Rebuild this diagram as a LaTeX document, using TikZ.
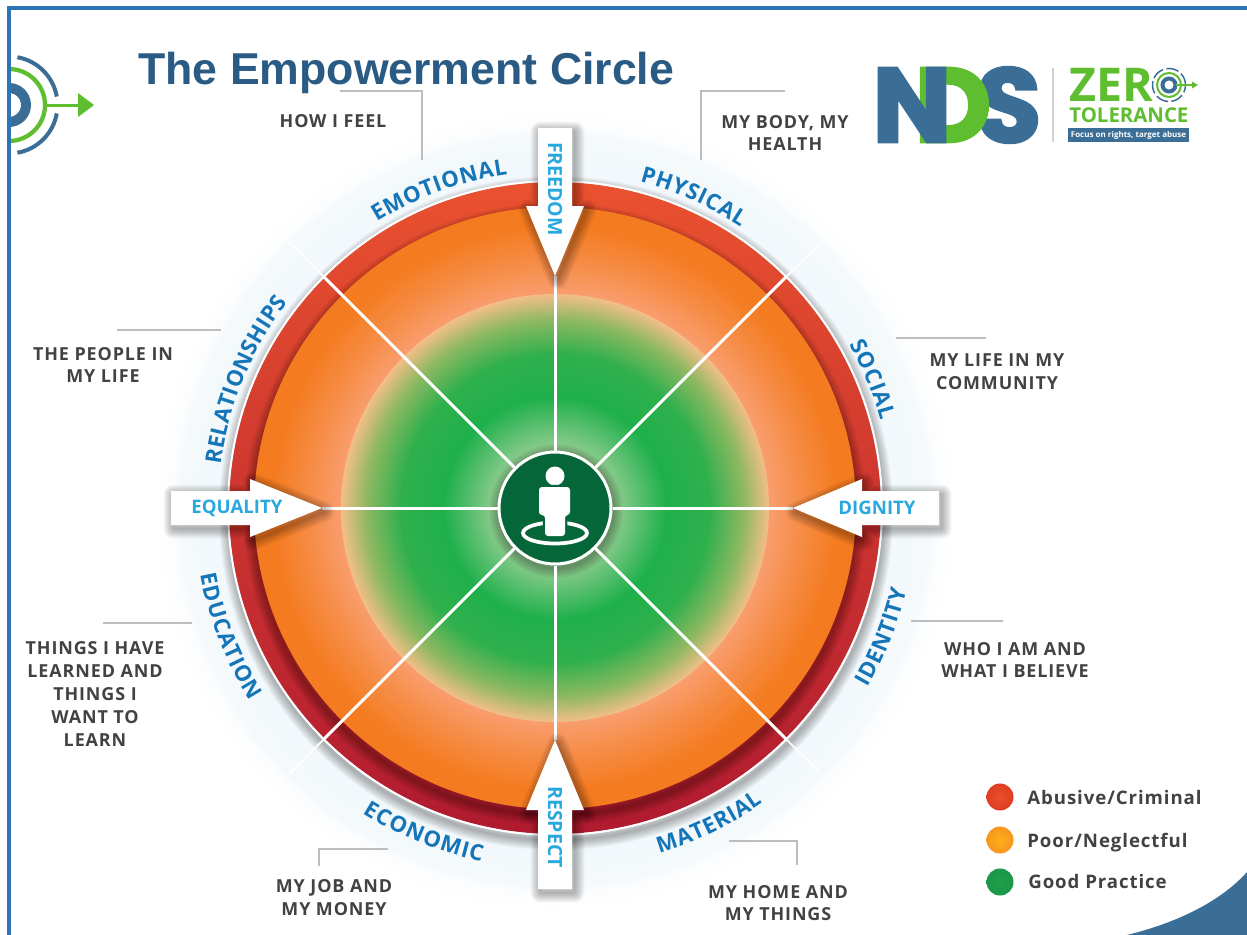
\documentclass[tikz,border=0pt]{standalone}
\usepackage{fontspec}
\usetikzlibrary{decorations.text}
\setmainfont{Open Sans}
\newfontfamily\titlefont{Liberation Sans}
\newfontfamily\logofont[BoldFeatures={FakeBold=2.5}]{Poppins}
\newfontfamily\spacedfont[LetterSpace=5]{Open Sans}
\definecolor{framblue}{HTML}{2E75B6}
\definecolor{ndsblue}{HTML}{3A6E96}
\definecolor{ndsgreen}{HTML}{5FBE2F}
\definecolor{titleblue}{HTML}{2A5B84}
\definecolor{ringblue}{HTML}{1475B8}
\definecolor{arrowblue}{HTML}{29A8DF}
\definecolor{inkgrey}{HTML}{404244}
\definecolor{leadgrey}{HTML}{BDBDBD}
\definecolor{hubgreen}{HTML}{05663A}
\definecolor{redtop}{HTML}{E9512F}
\definecolor{redmid}{HTML}{CB262A}
\definecolor{redlow}{HTML}{B01A30}
\definecolor{HaloA}{HTML}{F2F8FB}
\definecolor{HaloB}{HTML}{F5F9FC}
\definecolor{HaloC}{HTML}{FCFDFE}
\definecolor{OrgA}{HTML}{F99F72}
\definecolor{OrgB}{HTML}{F68C45}
\definecolor{OrgC}{HTML}{F47B20}
\definecolor{GrnA}{HTML}{8FCC8F}
\definecolor{GrnB}{HTML}{1FB04B}
\definecolor{GrnC}{HTML}{2FB04D}
\definecolor{GrnD}{HTML}{8DB862}
\definecolor{GrnE}{HTML}{F3BE88}
\definecolor{dotredin}{HTML}{E8502C}
\definecolor{dotredout}{HTML}{DF3D22}
\definecolor{dotorgin}{HTML}{FDB018}
\definecolor{dotorgout}{HTML}{F7961E}
\definecolor{dotgrnin}{HTML}{1FA04A}
\definecolor{dotgrnout}{HTML}{1A9648}
\pgfdeclareradialshading{paleglow}{\pgfpoint{0bp}{0bp}}{color(0bp)=(HaloA);color(21.6bp)=(HaloA);color(23.4bp)=(HaloB);color(24bp)=(HaloC);color(25bp)=(white);color(50bp)=(white)}
\pgfdeclareradialshading{orangeglow}{\pgfpoint{0bp}{0bp}}{color(0bp)=(OrgA);color(17.5bp)=(OrgA);color(20.5bp)=(OrgB);color(23.5bp)=(OrgC);color(25bp)=(OrgC);color(50bp)=(OrgC)}
\pgfdeclareradialshading{greenglow}{\pgfpoint{0bp}{0bp}}{color(0bp)=(GrnA);color(7bp)=(GrnA);color(13bp)=(GrnB);color(18bp)=(GrnC);color(22bp)=(GrnD);color(25bp)=(GrnE);color(50bp)=(GrnE)}
\tikzset{
	wheel/.style={shift={(555,508)},y=0.2mm},
	spoke/.style={white,line width=0.6mm},
	leader/.style={leadgrey,line width=0.22mm},
	callout/.style={font=\spacedfont\bfseries\fontsize{10.2}{13}\selectfont,text=inkgrey,align=center,inner sep=0pt},
	legendtext/.style={font=\spacedfont\bfseries\fontsize{10.6}{13}\selectfont,text=inkgrey,anchor=base west,inner sep=0pt},
	arrowtext/.style={font=\fontsize{10.6}{12}\selectfont\bfseries,text=arrowblue,inner sep=0pt},
	dot/.style={circle,minimum size=5.4mm,inner sep=0pt},
	ringtext/.style={decorate,decoration={text along path,text align=center,text={#1}}}
}
\newcommand{\ringfont}{\fontsize{12.6}{14}\selectfont\bfseries\color{ringblue}}
% #1 x shift, #2 y shift, #3 path
\newcommand{\softrim}[3]{
	\foreach \k in {1,...,10}{
		\draw[black,opacity=0.03,line width=\k*0.4mm,line join=round,xshift=#1,yshift=#2] #3;
	}
}

\begin{document}
\begin{tikzpicture}[x=0.2mm,y=-0.2mm]
\useasboundingbox (0,0) rectangle (1247,935);
\fill[white] (0,0) rectangle (1247,935);

%corner
\fill[ndsblue] (1127,935) .. controls (1180,922) and (1222,900) .. (1247,872) -- (1247,935) -- cycle;

%wheel
\begin{scope}[wheel]
\shade[shading=paleglow] (0,-2) circle (8cm);
\softrim{0.2mm}{-1mm}{(0,0) circle (327)}
\shade[top color=redtop,middle color=redmid,bottom color=redlow] (0,0) circle (326);
\draw[white,line width=0.4mm] (0,0) circle (327);
\softrim{0mm}{-1.2mm}{(0,0) circle (301)}
\shade[shading=orangeglow] (0,0) circle (301);
\shade[shading=greenglow] (0,0) circle (214);

\foreach \a in {45,135,...,315}{
	\coordinate (r\a) at (\a:327);
	\coordinate (e\a) at (\a:376);
}
\foreach \a/\r in {90/232,0/238,180/233,270/232}{
	\coordinate (t\a) at (\a:\r);
}
\softrim{0.2mm}{-0.6mm}{(0,0) circle (57)}
\end{scope}

%hub
\node[circle,draw=white,line width=0.6mm,fill=hubgreen,minimum size=22.4mm,inner sep=0pt] (hub) at (555,508) {};
\foreach \a in {45,135,...,315}{
	\draw[spoke] (hub)--(r\a);
	\draw[white,line width=0.35mm] (r\a)--(e\a);
}
\foreach \a in {0,90,180,270}{
	\draw[spoke] (hub)--(t\a);
}

%person
\draw[white,line width=0.75mm] (555,533) ellipse (6.4mm and 2.1mm);
\fill[white] (555,476) circle (1.9mm);
\draw[hubgreen,line width=0.9mm,rounded corners=0.6mm] (539,487)--(570,487)--(570,515)--(565,515)--(565,536)--(545,536)--(545,515)--(539,515)--cycle;
\fill[white,rounded corners=0.6mm] (539,487)--(570,487)--(570,515)--(565,515)--(565,536)--(545,536)--(545,515)--(539,515)--cycle;

%ring labels
\begin{scope}[wheel]
\path[ringtext={|\ringfont|E{\kern.4pt}M{\kern.4pt}O{\kern.4pt}T{\kern.4pt}I{\kern.4pt}O{\kern.4pt}N{\kern.4pt}A{\kern.4pt}L}] (150:337) arc (150:70:337);
\path[ringtext={|\ringfont|P{\kern.4pt}H{\kern.4pt}Y{\kern.4pt}S{\kern.4pt}I{\kern.4pt}C{\kern.4pt}A{\kern.4pt}L}] (106:337) arc (106:26:337);
\path[ringtext={|\ringfont|S{\kern.4pt}O{\kern.4pt}C{\kern.4pt}I{\kern.4pt}A{\kern.4pt}L}] (62:337) arc (62:-18:337);
\path[ringtext={|\ringfont|R{\kern.2pt}E{\kern.2pt}L{\kern.2pt}A{\kern.2pt}T{\kern.2pt}I{\kern.2pt}O{\kern.2pt}N{\kern.2pt}S{\kern.2pt}H{\kern.2pt}I{\kern.2pt}P{\kern.2pt}S}] (197.5:337) arc (197.5:117.5:337);
\path[ringtext={|\ringfont|E{\kern.4pt}D{\kern.4pt}U{\kern.4pt}C{\kern.4pt}A{\kern.4pt}T{\kern.4pt}I{\kern.4pt}O{\kern.4pt}N}] (161.5:361) arc (161.5:241.5:361);
\path[ringtext={|\ringfont|E{\kern.6pt}C{\kern.6pt}O{\kern.6pt}N{\kern.6pt}O{\kern.6pt}M{\kern.6pt}I{\kern.6pt}C}] (208:361) arc (208:288:361);
\path[ringtext={|\ringfont|M{\kern.4pt}A{\kern.4pt}T{\kern.4pt}E{\kern.4pt}R{\kern.4pt}I{\kern.4pt}A{\kern.4pt}L}] (256:361) arc (256:336:361);
\path[ringtext={|\ringfont|I{\kern.4pt}D{\kern.4pt}E{\kern.4pt}N{\kern.4pt}T{\kern.4pt}I{\kern.4pt}T{\kern.4pt}Y}] (298.5:361) arc (298.5:378.5:361);
\end{scope}

%arrows
\begin{scope}[wheel]
\foreach \a/\r/\s/\e in {90/232/302/380,0/238/307/384,180/233/305/384,270/232/302/381}{
	\pgfmathsetmacro{\sx}{0.5*cos(\a)-0.7*sin(\a)}
	\pgfmathsetmacro{\sy}{-0.5*sin(\a)-0.7*cos(\a)}
	\begin{scope}[rotate=\a]
		\softrim{\sx mm}{\sy mm}{(\r,0)--(\s,29)--(\s,17)--(\e,17)--(\e,-17)--(\s,-17)--(\s,-29)--cycle}
		\fill[white] (\r,0)--(\s,29)--(\s,17)--(\e,17)--(\e,-17)--(\s,-17)--(\s,-29)--cycle;
	\end{scope}
}
\node[arrowtext,font=\fontsize{11.1}{12}\selectfont\bfseries,rotate=-90] (freedom) at (90:319) {FREEDOM};
\node[arrowtext,font=\fontsize{11.1}{12}\selectfont\bfseries,rotate=-90] (respect) at (270:319) {RESPECT};
\node[arrowtext] (dignity) at (0:322) {DIGNITY};
\node[arrowtext] (equality) at (180:318) {EQUALITY};
\end{scope}

%callouts
\node[callout] (feel) at (333,121) {HOW I FEEL};
\node[callout] (body) at (785,133) {MY BODY, MY\\HEALTH};
\node[callout] (life) at (997,372) {MY LIFE IN MY\\COMMUNITY};
\node[callout] (people) at (103,365) {THE PEOPLE IN\\MY LIFE};
\node[callout] (who) at (1015,660) {WHO I AM AND\\WHAT I BELIEVE};
\node[callout] (things) at (95,694) {THINGS I HAVE\\LEARNED AND\\THINGS I\\WANT TO\\LEARN};
\node[callout] (job) at (334,898) {MY JOB AND\\MY MONEY};
\node[callout] (home) at (778,903) {MY HOME AND\\MY THINGS};

\draw[leader] (340,91)--(422,91)--(422,160);
\draw[leader] (785,91)--(701,91)--(701,160);
\draw[leader] (986,338)--(896,338);
\draw[leader] (117,330)--(221,330);
\draw[leader] (1003,621)--(911,621);
\draw[leader] (103,623)--(192,623);
\draw[leader] (319,866)--(319,849)--(388,849);
\draw[leader] (729,841)--(797,841)--(797,865);

%legend
\node[dot,inner color=dotredin,outer color=dotredout] (abuse) at (1000,797) {};
\node[dot,inner color=dotorgin,outer color=dotorgout] (poor) at (1000,840) {};
\node[dot,inner color=dotgrnin,outer color=dotgrnout] (good) at (1000,882) {};
\node[legendtext] (abusetext) at (1027,804) {Abusive/Criminal};
\node[legendtext] (poortext) at (1027,847) {Poor/Neglectful};
\node[legendtext] (goodtext) at (1028,888) {Good Practice};

%title
\node[font=\titlefont\bfseries\fontsize{25.4}{30}\selectfont,text=titleblue,anchor=base west,inner sep=0pt] (title) at (138,84) {The Empowerment Circle};

%logo left
\begin{scope}
\clip (9,0) rectangle (120,200);
\begin{scope}[shift={(9,105)},y=0.2mm]
\draw[ndsblue,line width=2mm] (0,0) circle (17);
\draw[ndsgreen,line width=0.85mm] (0,0) circle (36);
\draw[ndsblue,line width=0.8mm] (80:48.5) arc (80:10:48.5);
\draw[ndsblue,line width=0.8mm] (-80:48.5) arc (-80:-10:48.5);
\end{scope}
\end{scope}
\draw[ndsgreen,line width=0.6mm] (47,105)--(78,105);
\fill[ndsgreen] (78,93)--(94,105)--(78,117)--cycle;

%logo right
\node[font=\logofont\bfseries\fontsize{60}{61}\selectfont,text=ndsblue,inner sep=0pt] (ndss) at (1009,105) {S};
\node[font=\logofont\bfseries\fontsize{60}{61}\selectfont,text=ndsgreen,inner sep=0pt] (ndsd) at (953,105) {D};
\node[font=\logofont\bfseries\fontsize{60}{61}\selectfont,text=ndsblue,inner sep=0pt] (ndsn) at (912,105) {N};
\draw[leadgrey!70,line width=0.3mm] (1053,68)--(1053,142);
\node[font=\bfseries\fontsize{26.5}{27}\selectfont,text=ndsgreen,anchor=base west,inner sep=0pt] (zer) at (1069,101) {ZER};
\begin{scope}[shift={(1169,85)},y=0.2mm]
\draw[ndsblue,line width=0.8mm] (0,0) circle (6.5);
\draw[ndsgreen,line width=0.4mm] (0,0) circle (12);
\draw[ndsblue,line width=0.3mm,dash pattern=on 2.5mm off 0.7mm] (0,0) circle (16.5);
\end{scope}
\draw[ndsgreen,line width=0.3mm] (1176,85)--(1192,85);
\fill[ndsgreen] (1192,81.5)--(1198,85)--(1192,88.5)--cycle;
\node[font=\bfseries\fontsize{11.6}{13}\selectfont,text=ndsgreen,anchor=base west,inner sep=0pt] (tol) at (1069,122) {TOLERANCE};
\node[fill=ndsblue,text=white,font=\bfseries\fontsize{4.55}{6}\selectfont,minimum width=24.2mm,minimum height=2.9mm,inner sep=0pt] (focus) at (1128.5,135) {Focus on rights, target abuse};

%frame
\draw[framblue,line width=0.65mm] (9,935)--(9,8)--(1247,8);
\end{tikzpicture}
\end{document}
